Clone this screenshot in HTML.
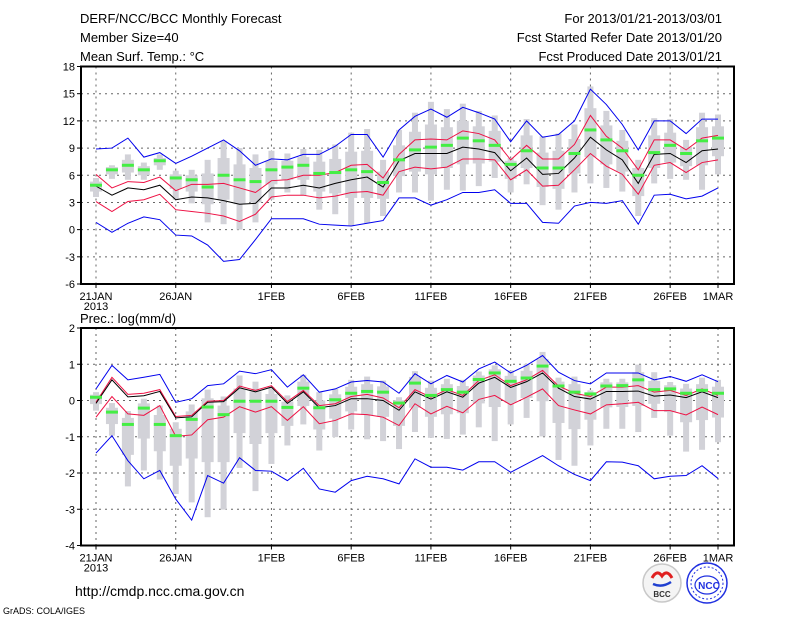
<!DOCTYPE html>
<html><head><meta charset="utf-8">
<style>
html,body{margin:0;padding:0;background:#fff;}
svg{display:block;}
text{font-family:"Liberation Sans","DejaVu Sans",sans-serif;fill:#000;}
</style></head>
<body>
<svg id="chart" width="800" height="618" viewBox="0 0 800 618" xmlns="http://www.w3.org/2000/svg">
<rect width="800" height="618" fill="#fff"/>
<text x="80" y="23" font-size="13">DERF/NCC/BCC Monthly Forecast</text>
<text x="80" y="42" font-size="13">Member Size=40</text>
<text x="80" y="61" font-size="13">Mean Surf. Temp.: °C</text>
<text x="722" y="23" font-size="13" text-anchor="end">For 2013/01/21-2013/03/01</text>
<text x="722" y="42" font-size="13" text-anchor="end">Fcst Started Refer Date 2013/01/20</text>
<text x="722" y="61" font-size="13" text-anchor="end">Fcst Produced Date 2013/01/21</text>
<text x="80" y="323" font-size="13">Prec.: log(mm/d)</text>
<text x="75" y="596" font-size="14">http://cmdp.ncc.cma.gov.cn</text>
<text x="3" y="614" font-size="9">GrADS: COLA/IGES</text>
<g>
<circle cx="662" cy="583" r="19" fill="#f4f4f4" stroke="#c8c8c8" stroke-width="1.5"/>
<path d="M652 578 q5 -9 10 -2 q5 -7 10 2" stroke="#e02020" stroke-width="3" fill="none"/>
<path d="M653 584 q9 4 18 -2" stroke="#2040d0" stroke-width="2.5" fill="none"/>
<text x="662" y="597" font-size="8" text-anchor="middle" font-weight="bold" style="fill:#333">BCC</text>
</g>
<g>
<circle cx="707" cy="583" r="20" fill="#fff" stroke="#2030e0" stroke-width="1.5"/>
<circle cx="707" cy="583" r="16" fill="none" stroke="#2030e0" stroke-width="1" stroke-dasharray="2,2"/>
<ellipse cx="707" cy="585" rx="12" ry="9" fill="none" stroke="#2030e0" stroke-width="1.2"/>
<text x="709" y="589" font-size="10" text-anchor="middle" font-weight="bold" style="fill:#2030e0">NCC</text>
</g>
<g id="plots"></g>
</svg>
<script>
// ---------- data: temperature panel ----------
const categories = ["21JAN","","","","","26JAN","","","","","","1FEB","","","","","6FEB","","","","","11FEB","","","","","16FEB","","","","","21FEB","","","","","26FEB","","","1MAR"];
const tempTicks = [18,15,12,9,6,3,0,-3,-6];
const tempMax = [8.9,9.0,10.1,8.0,8.5,7.3,8.1,9.0,9.9,8.7,7.1,7.8,7.7,8.3,8.3,9.2,10.5,10.5,8.0,11.0,12.5,13.3,12.4,13.5,12.9,12.2,9.7,12.0,10.2,10.5,12.0,15.5,13.8,11.6,8.8,12.0,12.0,10.6,12.2,12.2];
const tempMin = [0.8,-0.3,0.7,1.4,1.1,-0.6,-0.7,-1.7,-3.5,-3.3,-1.1,1.2,1.2,1.2,0.6,0.5,0.4,0.7,1.0,3.5,3.5,2.7,3.3,4.1,4.1,4.4,2.9,2.9,0.8,0.7,2.6,3.0,2.9,3.2,0.6,3.8,3.9,3.4,3.7,4.6];
const tempUpper = [6.1,4.6,5.3,5.2,5.8,4.3,5.0,5.0,5.1,4.6,4.1,5.4,5.5,6.0,6.0,6.3,7.1,7.2,5.7,8.3,9.9,10.0,9.9,10.9,10.6,9.9,7.7,9.3,7.8,7.8,9.4,12.6,10.3,9.0,6.6,9.9,9.9,8.8,10.1,10.4];
const tempLower = [3.1,2.0,3.1,3.3,3.9,2.2,2.0,1.8,1.5,0.9,1.7,3.6,3.8,3.8,3.5,3.7,4.1,4.2,3.8,6.4,6.9,6.7,6.9,7.8,7.8,7.7,5.5,6.6,4.8,4.9,6.6,8.4,7.0,6.1,3.9,7.1,7.4,6.3,7.4,7.7];
const tempMean = [4.8,3.8,4.6,4.4,4.9,3.3,3.6,3.5,3.2,2.8,2.9,4.6,4.6,4.9,4.6,5.1,5.5,5.8,4.7,7.6,8.4,8.4,8.4,9.1,8.9,8.5,6.5,7.9,6.1,6.2,7.9,10.2,8.8,7.7,5.1,8.3,8.4,7.4,8.7,8.9];
const tempMedian = [4.9,6.6,7.1,6.6,7.6,5.7,5.5,4.7,6.0,5.5,5.3,6.6,6.9,7.1,6.2,6.3,6.6,6.4,5.2,7.7,8.8,9.1,9.3,10.1,9.8,9.3,7.2,8.7,6.8,6.8,8.4,11.0,9.9,8.7,6.0,8.5,9.3,8.4,9.8,10.1];
const tempWhiskHi = [5.7,7.1,8.3,7.4,8.3,6.5,6.6,7.7,9.8,9.0,8.3,8.7,8.4,8.9,8.8,9.4,10.7,11.1,7.7,11.0,12.9,14.1,13.3,13.9,13.1,12.6,7.9,12.2,10.3,10.6,11.6,15.8,13.1,11.0,7.7,12.3,12.2,9.9,12.9,12.7];
const tempWhiskLo = [3.6,5.6,5.5,5.5,6.6,3.3,2.9,0.8,0.6,0.0,0.8,3.3,4.1,3.8,2.2,1.7,0.4,0.7,1.5,4.1,4.1,3.2,4.4,4.3,4.8,5.7,4.1,5.0,2.7,2.2,4.1,5.1,4.6,4.2,1.5,5.1,5.6,5.5,4.4,6.1];
const tempQ3 = [5.3,6.9,7.7,7.0,7.9,6.1,6.0,6.2,7.9,7.2,6.8,7.6,7.6,8.0,7.5,7.8,8.6,8.7,6.4,9.3,10.8,11.6,11.3,12.0,11.4,10.9,7.6,10.4,8.5,8.7,10.0,13.4,11.5,9.8,6.8,10.4,10.7,9.1,11.3,11.4];
const tempQ1 = [4.2,6.1,6.3,6.0,7.1,4.5,4.2,2.8,3.3,2.8,3.0,5.0,5.5,5.5,4.2,4.0,3.5,3.5,3.4,5.9,6.4,6.1,6.8,7.2,7.3,7.5,5.6,6.8,4.7,4.5,6.2,8.0,7.2,6.4,3.7,6.8,7.4,7.0,7.1,8.1];
// ---------- data: precipitation panel ----------
const precTicks = [2,1,0,-1,-2,-3,-4];
const precMax = [0.32,0.97,0.57,0.64,0.72,-0.05,0.05,0.41,0.46,0.81,0.74,0.85,0.37,0.71,0.23,0.32,0.51,0.55,0.51,0.20,0.74,0.46,0.69,0.51,0.87,1.06,0.76,0.97,1.24,0.78,0.55,0.46,0.76,0.76,0.76,0.57,0.66,0.53,0.71,0.52];
const precMin = [-1.45,-0.97,-1.66,-2.16,-1.93,-2.72,-3.30,-2.07,-2.28,-1.58,-1.93,-1.95,-2.21,-1.87,-2.44,-2.53,-2.21,-2.09,-2.16,-2.30,-1.61,-1.84,-1.84,-1.92,-1.69,-1.69,-1.98,-1.75,-1.52,-1.80,-2.04,-2.21,-1.69,-1.70,-1.80,-2.16,-2.09,-2.07,-1.80,-2.15];
const precUpper = [-0.05,0.64,0.17,0.20,0.30,-0.44,-0.41,-0.02,0.0,0.40,0.28,0.41,-0.03,0.28,-0.14,-0.09,0.11,0.17,0.07,-0.20,0.30,0.09,0.30,0.14,0.55,0.71,0.41,0.57,0.83,0.40,0.20,0.11,0.37,0.37,0.41,0.23,0.28,0.14,0.32,0.14];
const precLower = [-0.46,0.11,-0.37,-0.41,-0.14,-0.99,-0.95,-0.53,-0.46,-0.17,-0.32,-0.17,-0.55,-0.17,-0.64,-0.55,-0.37,-0.39,-0.46,-0.69,-0.09,-0.37,-0.16,-0.34,0.03,0.14,-0.12,0.09,0.32,-0.14,-0.26,-0.37,-0.12,-0.09,-0.05,-0.28,-0.28,-0.40,-0.18,-0.39];
const precMean = [-0.08,0.57,0.10,0.13,0.25,-0.48,-0.45,-0.05,-0.03,0.35,0.24,0.37,-0.08,0.24,-0.20,-0.14,0.05,0.05,0.0,-0.27,0.24,0.04,0.24,0.09,0.48,0.64,0.36,0.52,0.76,0.34,0.11,0.04,0.25,0.25,0.26,0.12,0.15,0.08,0.24,0.08];
const precMedian = [0.09,-0.32,-0.66,-0.21,-0.66,-0.97,-0.52,-0.18,-0.39,-0.02,-0.02,-0.02,-0.19,0.34,-0.20,0.02,0.20,0.25,0.23,-0.07,0.48,0.14,0.30,0.23,0.58,0.76,0.53,0.62,0.95,0.40,0.23,0.18,0.40,0.41,0.57,0.30,0.32,0.20,0.28,0.20];
const precWhiskHi = [0.23,-0.07,-0.29,0.05,-0.14,-0.60,-0.11,0.30,0.11,0.69,0.52,0.37,0.14,0.71,0.23,0.32,0.57,0.66,0.55,0.09,0.81,0.55,0.60,0.57,0.80,0.97,0.83,1.01,1.34,0.63,0.66,0.28,0.60,0.60,0.99,0.78,0.51,0.46,0.63,0.57];
const precWhiskLo = [-0.28,-0.97,-2.37,-1.93,-2.18,-2.58,-2.81,-3.22,-3.01,-1.86,-2.50,-1.75,-1.24,-0.66,-1.38,-1.01,-0.80,-1.07,-1.12,-1.34,-0.87,-1.03,-1.06,-0.94,-0.74,-1.12,-0.66,-0.48,-0.99,-1.64,-1.80,-1.24,-0.78,-0.78,-0.87,-0.48,-0.97,-1.41,-1.36,-1.15];
const precQ3 = [0.16,-0.2,-0.48,-0.08,-0.4,-0.78,-0.3,0.06,-0.14,0.33,0.25,0.18,-0.03,0.52,0.0,0.17,0.38,0.45,0.39,0.01,0.65,0.35,0.45,0.4,0.69,0.86,0.68,0.82,1.14,0.52,0.45,0.23,0.5,0.5,0.78,0.54,0.42,0.33,0.45,0.38];
const precQ1 = [-0.10,-0.65,-1.5,-1.05,-1.4,-1.8,-1.6,-1.7,-1.7,-0.9,-1.2,-0.9,-0.7,-0.15,-0.8,-0.5,-0.3,-0.4,-0.45,-0.7,-0.2,-0.45,-0.38,-0.35,-0.08,-0.18,-0.06,0.07,-0.02,-0.62,-0.79,-0.53,-0.19,-0.18,-0.15,-0.09,-0.32,-0.6,-0.54,-0.47];

const NS="http://www.w3.org/2000/svg";
const root=document.getElementById('plots');
function mk(tag,attrs,parent){const e=document.createElementNS(NS,tag);for(const k in attrs)e.setAttribute(k,attrs[k]);(parent||root).appendChild(e);return e;}
const X0=81,X1=734;
function xScale(i){return 96+i*(718-96)/(categories.length-1);}

function drawPanel(name,top,bottom,ticks,d){
  const vmax=ticks[0],vmin=ticks[ticks.length-1];
  const y=v=>top+(vmax-v)/(vmax-vmin)*(bottom-top);
  const g=mk('g',{});
  
  
  ticks.forEach((t,k)=>{
    if(k>0&&k<ticks.length-1){const l=mk('line',{x1:X0,x2:X1,y1:y(t),y2:y(t),stroke:'#666','stroke-width':1,'stroke-dasharray':'2,4'},g);
    }
    const tk=mk('line',{x1:X0-4,x2:X0,y1:y(t),y2:y(t),stroke:'#000'},g);
    
    const tx=mk('text',{x:X0-6,y:y(t)+4,'font-size':11,'text-anchor':'end'},g);
    tx.textContent=t;
    
  });
  categories.forEach((c,i)=>{
    if(!c)return;
    const vl=mk('line',{x1:xScale(i),x2:xScale(i),y1:top,y2:bottom,stroke:'#666','stroke-width':1,'stroke-dasharray':'2,4'},g);
    
    const tk=mk('line',{x1:xScale(i),x2:xScale(i),y1:bottom,y2:bottom+4,stroke:'#000'},g);
    
    const tx=mk('text',{x:xScale(i),y:bottom+16,'font-size':11,'text-anchor':'middle'},g);
    tx.textContent=c;
    
  });
  const yr=mk('text',{x:96,y:bottom+26,'font-size':11,'text-anchor':'middle'},g);
  yr.textContent='2013';
  
  categories.forEach((c,i)=>{
    const x=xScale(i);
    const w=mk('rect',{x:x-3,width:6,y:y(d.wh[i]),height:Math.max(1,y(d.wl[i])-y(d.wh[i])),fill:'#d2d2d8'},g);
    
    const b=mk('rect',{x:x-6,width:12,y:y(d.q3[i]),height:Math.max(1,y(d.q1[i])-y(d.q3[i])),fill:'#d2d2d8'},g);
    
  });
  const series=[[d.max,'#0000ee','max-line'],[d.min,'#0000ee','min-line'],[d.up,'#ee1144','upper-line'],[d.lo,'#ee1144','lower-line'],[d.mean,'#000','mean-line']];
  series.forEach(([arr,col,nm])=>{
    const p=mk('polyline',{points:arr.map((v,i)=>xScale(i)+','+y(v)).join(' '),fill:'none',stroke:col,'stroke-width':1},g);
    
  });
  categories.forEach((c,i)=>{
    const m=mk('rect',{x:xScale(i)-6,width:12,y:y(d.med[i])-1.5,height:3,fill:'#44ee44'},g);
    
  });
  const fr=mk('rect',{x:X0,y:top,width:X1-X0,height:bottom-top,fill:'none',stroke:'#000','stroke-width':2},g);
  
}
drawPanel('temperature',66.5,284,tempTicks,{max:tempMax,min:tempMin,up:tempUpper,lo:tempLower,mean:tempMean,med:tempMedian,wh:tempWhiskHi,wl:tempWhiskLo,q3:tempQ3,q1:tempQ1});
drawPanel('precipitation',328,545.5,precTicks,{max:precMax,min:precMin,up:precUpper,lo:precLower,mean:precMean,med:precMedian,wh:precWhiskHi,wl:precWhiskLo,q3:precQ3,q1:precQ1});
</script>
</body></html>
